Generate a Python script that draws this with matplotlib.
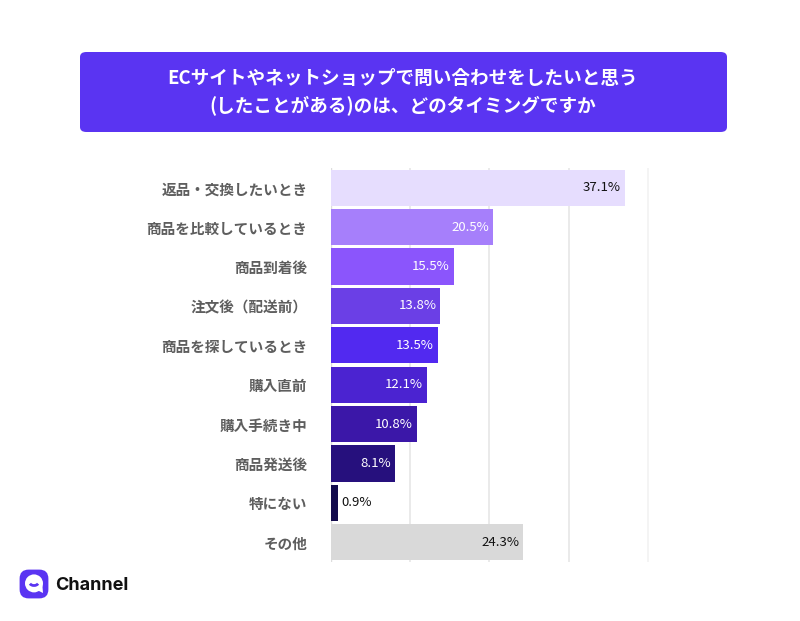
#!/usr/bin/env python
import matplotlib
matplotlib.use('Agg')
import matplotlib.pyplot as plt
from matplotlib.patches import FancyBboxPatch, Circle, Arc, Polygon

plt.rcParams['font.family'] = ['Noto Sans CJK JP', 'DejaVu Sans']

title = 'ECサイトやネットショップで問い合わせをしたいと思う\n(したことがある)のは、どのタイミングですか'
labels = ['返品・交換したいとき', '商品を比較しているとき', '商品到着後', '注文後（配送前）',
          '商品を探しているとき', '購入直前', '購入手続き中', '商品発送後', '特にない', 'その他']
values = [37.1, 20.5, 15.5, 13.8, 13.5, 12.1, 10.8, 8.1, 0.9, 24.3]
colors = ['#E6DDFE', '#A67FFB', '#8B55FC', '#6B3FE6', '#5229F0',
          '#4B23D1', '#3B17A8', '#26107D', '#120A4C', '#D9D9D9']
text_colors = ['#111111', 'white', 'white', 'white', 'white',
               'white', 'white', 'white', '#111111', '#111111']
grid_ticks = [10, 20, 30, 40]

W, H = 800, 621
fig = plt.figure(figsize=(8, 6.21), dpi=100)

# title box
fig.patches.append(FancyBboxPatch((80 / W, 1 - 132 / H), 647 / W, 80 / H,
                                  boxstyle='round,pad=0,rounding_size=0.008',
                                  transform=fig.transFigure, facecolor='#5A34F2',
                                  edgecolor='none'))
fig.text(403 / W, 1 - 92 / H, title, ha='center', va='center', color='white',
         fontsize=13.4, fontweight='bold', linespacing=1.45)

# bars
ax = fig.add_axes([331 / W, 1 - 562 / H, 320 / W, 394 / H])
ypos = list(range(len(labels)))
ax.barh(ypos, values, height=0.92, color=colors, zorder=3)
ax.set_xlim(0, 40.4)
ax.set_ylim(len(labels) - 0.5, -0.5)
for g in grid_ticks:
    ax.axvline(g, color='#E6E6E6' if g < 40 else '#F2F2F2', linewidth=1.2, zorder=1)
ax.axvline(0, color='#DDDDDD', linewidth=1, zorder=2)
for y, v, tc in zip(ypos, values, text_colors):
    if v < 3:
        ax.text(v + 0.4, y, f'{v}%', ha='left', va='center', color=tc, fontsize=9.5, zorder=4)
    else:
        ax.text(v - 0.5, y, f'{v}%', ha='right', va='center', color=tc, fontsize=9.5, zorder=4)
ax.set_yticks(ypos)
ax.set_yticklabels(labels, fontsize=10.5, color='#5E5E5E', fontweight='bold')
ax.tick_params(axis='y', length=0, pad=17)
ax.set_xticks([])
for s in ax.spines.values():
    s.set_visible(False)

# logo
lax = fig.add_axes([19 / W, 1 - 599 / H, 30 / W, 30 / H])
lax.set_xlim(0, 1)
lax.set_ylim(0, 1)
lax.axis('off')
lax.add_patch(FancyBboxPatch((0.02, 0.02), 0.96, 0.96,
                             boxstyle='round,pad=0,rounding_size=0.3',
                             facecolor='#5A34F2', edgecolor='none'))
lax.add_patch(Circle((0.5, 0.52), 0.3, facecolor='white', edgecolor='none'))
lax.add_patch(Polygon([[0.6, 0.3], [0.8, 0.2], [0.78, 0.45]], closed=True,
                      facecolor='white', edgecolor='none'))
lax.add_patch(Arc((0.5, 0.56), 0.3, 0.22, theta1=200, theta2=340,
                  color='#5A34F2', linewidth=2))
fig.text(55 / W, 1 - 585 / H, 'Channel', ha='left', va='center', fontsize=13,
         fontweight='bold', family=['Inter', 'DejaVu Sans'], color='#111111')

fig.savefig('out.png', dpi=100, facecolor='white')
